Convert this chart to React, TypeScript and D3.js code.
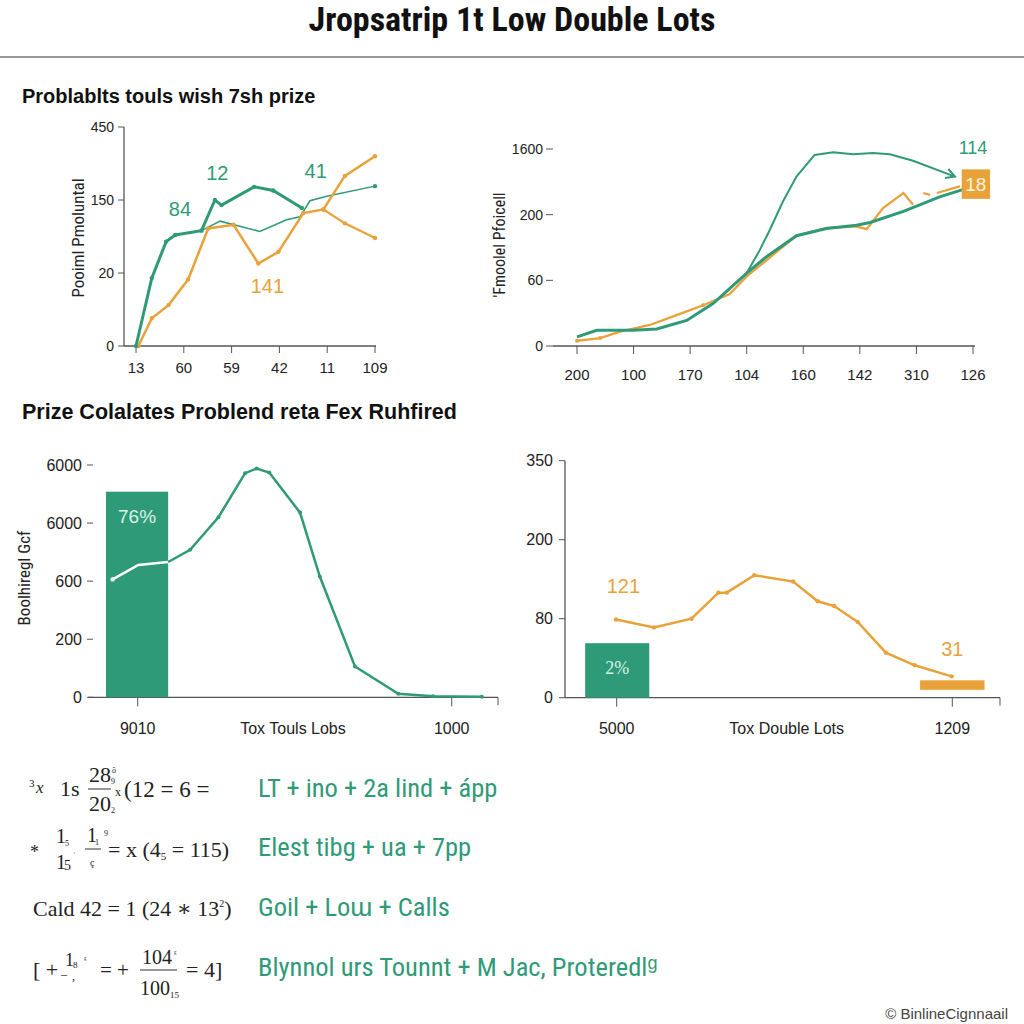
import React from "react";
import * as d3 from "d3";

// ---------- DATA (values in axis-tick units) ----------
// Chart 1 (top-left)
const c1YTicks = ["0", "20", "150", "450"];
const c1XTicks = ["13", "60", "59", "42", "11", "109"];
const c1GreenThick = [
  [0, 0], [0.33, 0.93], [0.63, 1.43], [0.82, 1.52], [1.37, 1.58], [1.65, 2.0],
  [1.79, 1.93], [2.47, 2.18], [2.87, 2.13], [3.47, 1.89],
];
const c1GreenThin = [
  [1.37, 1.58], [1.76, 1.71], [2.59, 1.57], [3.15, 1.73], [3.43, 1.77],
  [3.64, 1.99], [3.99, 2.05], [5.0, 2.19],
];
const c1Orange = [
  [0.05, 0], [0.33, 0.38], [0.68, 0.56], [1.09, 0.91], [1.51, 1.61], [2.04, 1.66],
  [2.56, 1.13], [2.98, 1.29], [3.5, 1.82], [3.92, 1.87], [4.37, 2.33], [5.0, 2.6],
];
const c1OrangeBranch = [[3.92, 1.87], [4.37, 1.68], [5.0, 1.48]];
const c1Labels = [
  { t: "84", x: 0.92, y: 1.78, c: "g" },
  { t: "12", x: 1.7, y: 2.27, c: "g" },
  { t: "41", x: 3.76, y: 2.3, c: "g" },
  { t: "141", x: 2.75, y: 0.72, c: "o" },
];

// Chart 2 (top-right)
const c2YTicks = ["0", "60", "200", "1600"];
const c2XTicks = ["200", "100", "170", "104", "160", "142", "310", "126"];
const c2GreenThick = [
  [0, 0.14], [0.35, 0.24], [0.64, 0.24], [0.99, 0.24], [1.41, 0.26], [1.94, 0.39],
  [2.41, 0.65], [3.0, 1.11], [3.35, 1.36], [3.88, 1.68], [4.41, 1.79], [4.94, 1.84],
  [5.18, 1.88], [5.77, 2.05], [6.41, 2.27], [7.0, 2.43],
];
const c2GreenThin = [
  [3.0, 1.11], [3.23, 1.46], [3.41, 1.77], [3.64, 2.2], [3.88, 2.58], [4.2, 2.91],
  [4.53, 2.95], [4.88, 2.92], [5.23, 2.94], [5.53, 2.92], [5.94, 2.82], [6.68, 2.58],
];
const c2Orange = [
  [0, 0.08], [0.41, 0.12], [0.76, 0.22], [1.29, 0.32], [1.76, 0.47], [2.23, 0.62],
  [2.7, 0.79], [3.0, 1.06], [3.88, 1.68], [4.41, 1.8], [4.94, 1.82], [5.12, 1.78],
  [5.41, 2.1], [5.77, 2.33], [5.94, 2.15], null,
  [6.12, 2.33], [6.24, 2.3], null,
  [6.36, 2.33], [6.77, 2.43],
];
const c2GreenLabel = { t: "114", x: 7.0, y: 2.93 };
const c2OrangeBox = { t: "18", x0: 6.8, x1: 7.3, y0: 2.24, y1: 2.69 };

// Chart 3 (bottom-left)
const c3YTicks = ["0", "200", "600", "6000", "6000"];
const c3XTicks = [{ v: 0, t: "9010" }, { v: 10, t: "1000" }];
const c3XTitle = "Tox Touls Lobs";
const c3Bar = { x0: -1.01, x1: 0.97, v: 3.54, label: "76%" };
const c3LineInBar = [[-0.8, 2.03], [0.02, 2.28], [0.97, 2.33]];
const c3Line = [
  [0.97, 2.33], [1.67, 2.54], [2.57, 3.1], [3.42, 3.86], [3.79, 3.94], [4.19, 3.87],
  [5.17, 3.18], [5.8, 2.08], [6.92, 0.53], [8.3, 0.06], [9.41, 0.02], [10.96, 0.01],
];

// Chart 4 (bottom-right)
const c4YTicks = ["0", "80", "200", "350"];
const c4XTicks = [{ v: 0, t: "5000" }, { v: 10, t: "1209" }];
const c4XTitle = "Tox Double Lots";
const c4GreenBar = { x0: -0.94, x1: 0.97, v: 0.69, label: "2%" };
const c4OrangeBar = { x0: 9.04, x1: 10.96, lo: 0.1, hi: 0.22 };
const c4Line = [
  [-0.02, 0.99], [1.11, 0.89], [2.23, 1.0], [3.03, 1.33], [3.28, 1.33], [4.1, 1.55],
  [5.26, 1.47], [5.99, 1.22], [6.48, 1.16], [7.18, 0.96], [8.02, 0.57], [8.88, 0.41],
  [9.98, 0.27],
];
const c4Labels = [
  { t: "121", x: 0.2, y: 1.32 },
  { t: "31", x: 10.0, y: 0.53 },
];

// Text
const TITLE = "Jropsatrip 1t Low Double Lots";
const SUB1 = "Problablts touls wish 7sh prize";
const SUB2 = "Prize Colalates Problend reta Fex Ruhfired";
const Y1 = "Pooiml Pmoluntal";
const Y2 = "'Fmoolel Pfoicell";
const Y3 = "Boolhiregl Gcf";
const GREEN_ROWS = [
  "LT + ino + 2a lind + ápp",
  "Elest tibg + ua + 7pp",
  "Goil + Loɯ + Calls",
  "Blynnol urs Tounnt + M Jac, Proteredl\u1D4D",
];
const CREDIT = "© BinlineCignnaail";

// ---------- STYLE ----------
const GREEN = "#2f9a78";
const ORANGE = "#e9a23a";
const AXIS = "#555";
const SANS = "'Liberation Sans', Arial, sans-serif";
const NARROW = "'Liberation Sans Narrow', 'Roboto Condensed', 'Liberation Sans', Arial, sans-serif";
const SERIF = "'Liberation Serif', 'DejaVu Serif', serif";

type P = [number, number] | null;

function Dots({ pts, x, y, color, r = 2.2 }: any) {
  return (
    <g>
      {pts.filter((p: P) => p).map((p: any, i: number) => (
        <circle key={i} cx={x(p[0])} cy={y(p[1])} r={r} fill={color} />
      ))}
    </g>
  );
}

function Chart1() {
  const x = d3.scaleLinear().domain([0, 5]).range([136, 375]);
  const y = d3.scaleLinear().domain([0, 3]).range([346, 127]);
  const line = d3.line<any>().x((d) => x(d[0])).y((d) => y(d[1]));
  return (
    <g>
      <line x1={124} x2={124} y1={y(3)} y2={y(0)} stroke={AXIS} strokeWidth={1.3} />
      <line x1={124} x2={376} y1={y(0)} y2={y(0)} stroke={AXIS} strokeWidth={1.3} />
      {c1YTicks.map((t, i) => (
        <g key={t + i}>
          <line x1={118} x2={124} y1={y(i)} y2={y(i)} stroke={AXIS} />
          <text x={114} y={y(i)} dy="0.35em" textAnchor="end" fontSize={14} fontFamily={SANS} fill="#222">{t}</text>
        </g>
      ))}
      {c1XTicks.map((t, i) => (
        <g key={t + i}>
          <line x1={x(i)} x2={x(i)} y1={y(0)} y2={y(0) + 7} stroke={AXIS} />
          <text x={x(i)} y={373} textAnchor="middle" fontSize={15} fontFamily={SANS} fill="#222">{t}</text>
        </g>
      ))}
      <text transform={`translate(84,238) rotate(-90)`} textAnchor="middle" fontSize={17} fontFamily={NARROW} fill="#222">{Y1}</text>
      <path d={line(c1GreenThin as any) || ""} fill="none" stroke={GREEN} strokeWidth={1.5} />
      <path d={line(c1OrangeBranch as any) || ""} fill="none" stroke={ORANGE} strokeWidth={2.2} />
      <path d={line(c1Orange as any) || ""} fill="none" stroke={ORANGE} strokeWidth={2.5} />
      <path d={line(c1GreenThick as any) || ""} fill="none" stroke={GREEN} strokeWidth={3} />
      <Dots pts={c1Orange} x={x} y={y} color={ORANGE} />
      <Dots pts={c1OrangeBranch} x={x} y={y} color={ORANGE} />
      <Dots pts={c1GreenThick} x={x} y={y} color={GREEN} />
      <Dots pts={[c1GreenThin[c1GreenThin.length - 1]]} x={x} y={y} color={GREEN} />
      {c1Labels.map((l) => (
        <text key={l.t} x={x(l.x)} y={y(l.y)} textAnchor="middle" fontSize={20} fontFamily={SANS} fill={l.c === "g" ? GREEN : ORANGE}>{l.t}</text>
      ))}
    </g>
  );
}

function Chart2() {
  const x = d3.scaleLinear().domain([0, 7]).range([577, 973]);
  const y = d3.scaleLinear().domain([0, 3]).range([346, 149]);
  const line = d3.line<any>().defined((d) => d !== null).x((d) => x(d[0])).y((d) => y(d[1]));
  const last = c2GreenThin[c2GreenThin.length - 1];
  const prev = c2GreenThin[c2GreenThin.length - 2];
  const ang = Math.atan2(y(last[1]) - y(prev[1]), x(last[0]) - x(prev[0]));
  const ax = x(last[0]), ay = y(last[1]);
  const ah = 10;
  const arrow = `M${ax - ah * Math.cos(ang - 0.5)},${ay - ah * Math.sin(ang - 0.5)} L${ax},${ay} L${ax - ah * Math.cos(ang + 0.5)},${ay - ah * Math.sin(ang + 0.5)}`;
  return (
    <g>
      <line x1={553} x2={975} y1={y(0)} y2={y(0)} stroke={AXIS} strokeWidth={1.3} />
      {c2YTicks.map((t, i) => (
        <g key={t + i}>
          <line x1={546} x2={553} y1={y(i)} y2={y(i)} stroke={AXIS} />
          <text x={543} y={y(i)} dy="0.35em" textAnchor="end" fontSize={14} fontFamily={SANS} fill="#222">{t}</text>
        </g>
      ))}
      {c2XTicks.map((t, i) => (
        <g key={t + i}>
          <line x1={x(i)} x2={x(i)} y1={y(0)} y2={y(0) + 8} stroke={AXIS} />
          <text x={x(i)} y={380} textAnchor="middle" fontSize={15} fontFamily={SANS} fill="#222">{t}</text>
        </g>
      ))}
      <text transform={`translate(505,245) rotate(-90)`} textAnchor="middle" fontSize={16} fontFamily={NARROW} fill="#222">{Y2}</text>
      <path d={line(c2GreenThin as any) || ""} fill="none" stroke={GREEN} strokeWidth={2} />
      <path d={arrow} fill="none" stroke={GREEN} strokeWidth={2} />
      <path d={line(c2Orange as any) || ""} fill="none" stroke={ORANGE} strokeWidth={2.3} />
      <path d={line(c2GreenThick as any) || ""} fill="none" stroke={GREEN} strokeWidth={3} />
      <Dots pts={[c2Orange[0], c2Orange[1], c2Orange[5]]} x={x} y={y} color={ORANGE} r={2} />
      <text x={x(c2GreenLabel.x)} y={y(c2GreenLabel.y)} textAnchor="middle" fontSize={18} fontFamily={SANS} fill={GREEN}>{c2GreenLabel.t}</text>
      <rect x={x(c2OrangeBox.x0)} y={y(c2OrangeBox.y1)} width={x(c2OrangeBox.x1) - x(c2OrangeBox.x0)} height={y(c2OrangeBox.y0) - y(c2OrangeBox.y1)} fill={ORANGE} />
      <text x={(x(c2OrangeBox.x0) + x(c2OrangeBox.x1)) / 2} y={(y(c2OrangeBox.y0) + y(c2OrangeBox.y1)) / 2} dy="0.35em" textAnchor="middle" fontSize={19} fontFamily={SANS} fill="#fff4dc">{c2OrangeBox.t}</text>
    </g>
  );
}

function Chart3() {
  const x = d3.scaleLinear().domain([0, 10]).range([137.7, 451.7]);
  const y = d3.scaleLinear().domain([0, 4]).range([697.3, 465]);
  const line = d3.line<any>().x((d) => x(d[0])).y((d) => y(d[1]));
  return (
    <g>
      <line x1={88} x2={498} y1={y(0)} y2={y(0)} stroke={AXIS} strokeWidth={1.3} />
      <line x1={498} x2={498} y1={y(0)} y2={y(0) + 8} stroke={AXIS} />
      {c3YTicks.map((t, i) => (
        <g key={t + i}>
          <line x1={87} x2={93} y1={y(i)} y2={y(i)} stroke={AXIS} />
          <text x={82} y={y(i)} dy="0.35em" textAnchor="end" fontSize={16} fontFamily={SANS} fill="#222">{t}</text>
        </g>
      ))}
      {c3XTicks.map((t) => (
        <g key={t.t}>
          <line x1={x(t.v)} x2={x(t.v)} y1={y(0)} y2={y(0) + 9} stroke={AXIS} />
          <text x={x(t.v)} y={734} textAnchor="middle" fontSize={16} fontFamily={SANS} fill="#222">{t.t}</text>
        </g>
      ))}
      <text x={293} y={734} textAnchor="middle" fontSize={16} fontFamily={SANS} fill="#222">{c3XTitle}</text>
      <text transform={`translate(30,578) rotate(-90)`} textAnchor="middle" fontSize={17} fontFamily={NARROW} fill="#222">{Y3}</text>
      <rect x={x(c3Bar.x0)} y={y(c3Bar.v)} width={x(c3Bar.x1) - x(c3Bar.x0)} height={y(0) - y(c3Bar.v)} fill={GREEN} />
      <text x={x((c3Bar.x0 + c3Bar.x1) / 2)} y={y(3.0)} textAnchor="middle" fontSize={19} fontFamily={SANS} fill="#d8f3e6">{c3Bar.label}</text>
      <path d={line(c3LineInBar as any) || ""} fill="none" stroke="#fff" strokeWidth={2.5} />
      <Dots pts={[c3LineInBar[0]]} x={x} y={y} color="#fff" />
      <path d={line(c3Line as any) || ""} fill="none" stroke={GREEN} strokeWidth={2.5} />
      <Dots pts={c3Line.slice(1)} x={x} y={y} color={GREEN} r={2} />
    </g>
  );
}

function Chart4() {
  const x = d3.scaleLinear().domain([0, 10]).range([616.7, 952.3]);
  const y = d3.scaleLinear().domain([0, 3]).range([697.7, 460.7]);
  const line = d3.line<any>().x((d) => x(d[0])).y((d) => y(d[1]));
  return (
    <g>
      <line x1={565} x2={565} y1={y(3)} y2={y(0)} stroke={AXIS} strokeWidth={1.3} />
      <line x1={565} x2={1000} y1={y(0)} y2={y(0)} stroke={AXIS} strokeWidth={1.3} />
      <line x1={1000} x2={1000} y1={y(0)} y2={y(0) + 8} stroke={AXIS} />
      {c4YTicks.map((t, i) => (
        <g key={t + i}>
          <line x1={559} x2={565} y1={y(i)} y2={y(i)} stroke={AXIS} />
          <text x={553} y={y(i)} dy="0.35em" textAnchor="end" fontSize={16} fontFamily={SANS} fill="#222">{t}</text>
        </g>
      ))}
      {c4XTicks.map((t) => (
        <g key={t.t}>
          <line x1={x(t.v)} x2={x(t.v)} y1={y(0)} y2={y(0) + 9} stroke={AXIS} />
          <text x={x(t.v)} y={734} textAnchor="middle" fontSize={16} fontFamily={SANS} fill="#222">{t.t}</text>
        </g>
      ))}
      <text x={786.7} y={734} textAnchor="middle" fontSize={16} fontFamily={SANS} fill="#222">{c4XTitle}</text>
      <rect x={x(c4GreenBar.x0)} y={y(c4GreenBar.v)} width={x(c4GreenBar.x1) - x(c4GreenBar.x0)} height={y(0) - y(c4GreenBar.v)} fill={GREEN} />
      <text x={x((c4GreenBar.x0 + c4GreenBar.x1) / 2)} y={y(0.38)} dy="0.35em" textAnchor="middle" fontSize={18} fontFamily={SERIF} fill="#d8f3e6">{c4GreenBar.label}</text>
      <rect x={x(c4OrangeBar.x0)} y={y(c4OrangeBar.hi)} width={x(c4OrangeBar.x1) - x(c4OrangeBar.x0)} height={y(c4OrangeBar.lo) - y(c4OrangeBar.hi)} fill={ORANGE} />
      <path d={line(c4Line as any) || ""} fill="none" stroke={ORANGE} strokeWidth={2.5} />
      <Dots pts={c4Line} x={x} y={y} color={ORANGE} r={2.2} />
      {c4Labels.map((l) => (
        <text key={l.t} x={x(l.x)} y={y(l.y)} textAnchor="middle" fontSize={20} fontFamily={SANS} fill={ORANGE}>{l.t}</text>
      ))}
    </g>
  );
}

function Formulas() {
  const f = { fontFamily: SERIF, fill: "#222" } as any;
  return (
    <g>
      {/* row 1 */}
      <text x={29} y={787} fontSize={11} {...f}>3</text>
      <text x={36} y={793} fontSize={17} fontStyle="italic" {...f}>x</text>
      <text x={60} y={796} fontSize={22} {...f}>1s</text>
      <text x={89} y={782} fontSize={22} {...f}>28</text>
      <text x={111} y={784} fontSize={8} {...f}>9</text>
      <text x={112} y={773} fontSize={8} {...f}>ô</text>
      <line x1={88} x2={111} y1={789} y2={789} stroke="#333" strokeWidth={1} />
      <text x={89} y={811} fontSize={22} {...f}>20</text>
      <text x={111} y={813} fontSize={8} {...f}>2</text>
      <text x={115} y={796} fontSize={12} {...f}>x</text>
      <text x={124} y={797} fontSize={23} {...f}>(12 = 6 =</text>
      {/* row 2 */}
      <text x={30} y={858} fontSize={18} {...f}>*</text>
      <text x={56} y={843} fontSize={20} {...f}>1</text>
      <text x={65} y={846} fontSize={8} {...f}>5</text>
      <text x={56} y={869} fontSize={20} {...f}>1</text>
      <text x={64} y={870} fontSize={14} {...f}>5</text>
      <text x={73} y={858} fontSize={8} {...f}>ʾ</text>
      <text x={87} y={842} fontSize={20} {...f}>1</text>
      <text x={95} y={845} fontSize={8} {...f}>1</text>
      <line x1={85} x2={101} y1={849} y2={849} stroke="#333" strokeWidth={1} />
      <text x={90} y={866} fontSize={10} {...f}>ç</text>
      <text x={104} y={836} fontSize={8} {...f}>9</text>
      <text x={108} y={857} fontSize={22} {...f}>
        <tspan>= x (4</tspan>
        <tspan fontSize={11} dy={3}>5</tspan>
        <tspan dy={-3}> = 115)</tspan>
      </text>
      {/* row 3 */}
      <text x={33} y={916} fontSize={22} {...f}>
        <tspan>Cald 42 = 1 (24 ∗ 13</tspan>
        <tspan fontSize={10} dy={-9}>2</tspan>
        <tspan dy={9}>)</tspan>
      </text>
      {/* row 4 */}
      <text x={33} y={977} fontSize={22} {...f}>[ +</text>
      <text x={65} y={966} fontSize={18} {...f}>1</text>
      <text x={73} y={968} fontSize={9} {...f}>8</text>
      <text x={61} y={978} fontSize={12} {...f}>–</text>
      <text x={72} y={980} fontSize={12} {...f}>,</text>
      <text x={84} y={962} fontSize={8} {...f}>ᵍ</text>
      <text x={100} y={977} fontSize={21} {...f}>= +</text>
      <text x={142} y={964} fontSize={20} {...f}>104</text>
      <text x={174} y={956} fontSize={8} {...f}>ᵍ</text>
      <line x1={140} x2={177} y1={970} y2={970} stroke="#333" strokeWidth={1} />
      <text x={140} y={995} fontSize={20} {...f}>100</text>
      <text x={170} y={998} fontSize={9} {...f}>15</text>
      <text x={186} y={977} fontSize={22} {...f}>= 4]</text>
      {GREEN_ROWS.map((t, i) => (
        <text key={i} x={258} y={[797, 856, 916, 976][i]} fontSize={26.5} fontFamily={NARROW} fill={GREEN}>{t}</text>
      ))}
    </g>
  );
}

export default function App() {
  return (
    <svg width={1024} height={1024} style={{ position: "absolute", left: 0, top: 0, background: "#fff" }}>
      <rect width={1024} height={1024} fill="#fff" />
      <text x={512} y={31} textAnchor="middle" fontSize={34} fontWeight="bold" fontFamily={NARROW} fill="#111">{TITLE}</text>
      <line x1={0} x2={1024} y1={57} y2={57} stroke="#777" strokeWidth={1.5} />
      <text x={22} y={103} fontSize={20} fontWeight="bold" fontFamily={SANS} fill="#111">{SUB1}</text>
      <text x={22} y={419} fontSize={21.5} fontWeight="bold" fontFamily={SANS} fill="#111">{SUB2}</text>
      <Chart1 />
      <Chart2 />
      <Chart3 />
      <Chart4 />
      <Formulas />
      <text x={1008} y={1019} textAnchor="end" fontSize={15} fontFamily={SANS} fill="#444">{CREDIT}</text>
    </svg>
  );
}
